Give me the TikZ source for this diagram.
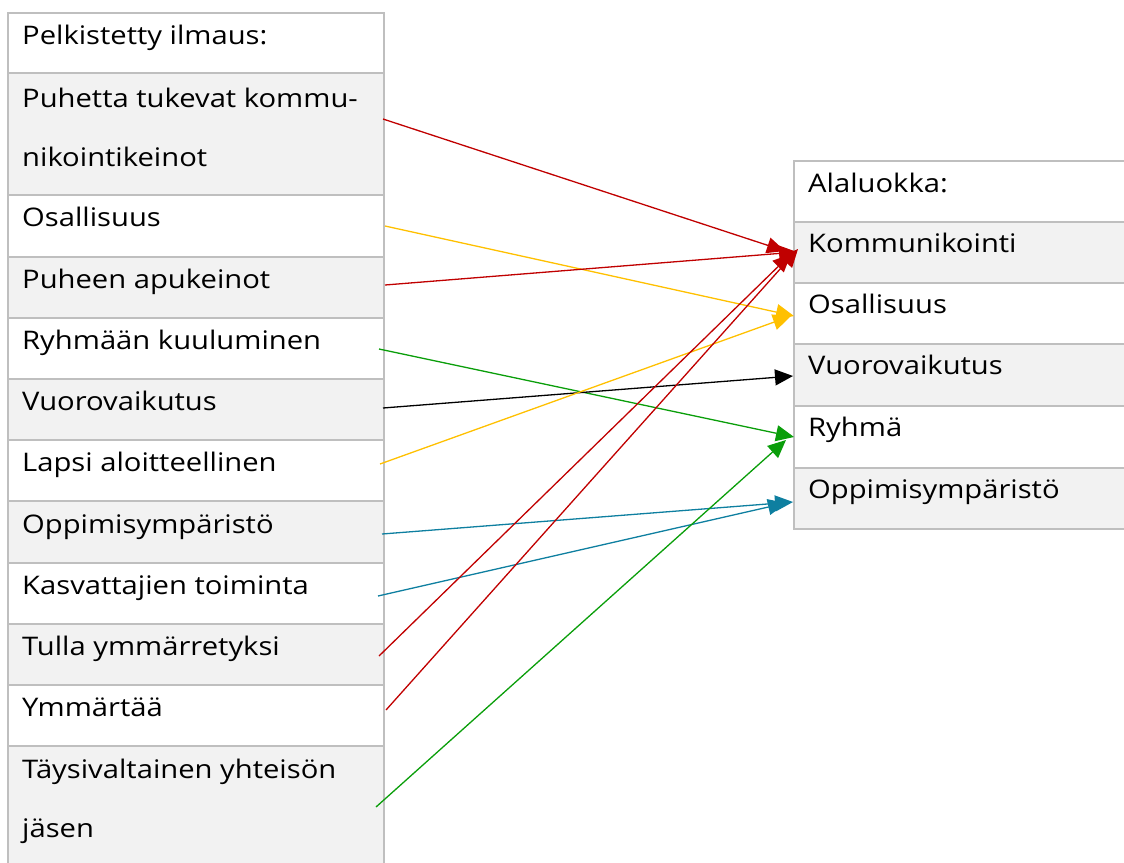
\documentclass[tikz,border=0pt]{standalone}
\usepackage{fontspec}
\setmainfont{Open Sans}[FakeStretch=1.14]
\usetikzlibrary{arrows.meta}
\definecolor{cellgray}{HTML}{F2F2F2}
\definecolor{bordergray}{HTML}{BFBFBF}
\definecolor{cred}{HTML}{C00000}
\definecolor{cgold}{HTML}{FFC000}
\definecolor{cgreen}{HTML}{0A9E0A}
\definecolor{cteal}{HTML}{0E7FA0}
\newcommand{\twolines}[2]{\vtop{\hbox{#1}\hbox{#2}}}
\tikzset{
  cell/.style={draw=bordergray, line width=2pt, anchor=north west, inner sep=0pt, minimum width=#1},
  lcell/.style={cell=376pt},
  rcell/.style={cell=340pt},
  txt/.style={anchor=base west, inner sep=0pt, font=\fontsize{25.6}{59}\selectfont},
  link/.style={line width=1.3pt, -{Triangle[length=18pt,width=16pt]}},
}
\begin{document}
\begin{tikzpicture}[x=1pt,y=-1pt]
\useasboundingbox (0,0) rectangle (1124,862);
% left table
\node[lcell, fill=white, minimum height=60pt] (l0) at (7,12) {};
\node[lcell, fill=cellgray, minimum height=122pt] (l1) at (7,72) {};
\node[lcell, fill=white, minimum height=62pt] (l2) at (7,194) {};
\node[lcell, fill=cellgray, minimum height=61pt] (l3) at (7,256) {};
\node[lcell, fill=white, minimum height=61pt] (l4) at (7,317) {};
\node[lcell, fill=cellgray, minimum height=61pt] (l5) at (7,378) {};
\node[lcell, fill=white, minimum height=61pt] (l6) at (7,439) {};
\node[lcell, fill=cellgray, minimum height=62pt] (l7) at (7,500) {};
\node[lcell, fill=white, minimum height=61pt] (l8) at (7,562) {};
\node[lcell, fill=cellgray, minimum height=61pt] (l9) at (7,623) {};
\node[lcell, fill=white, minimum height=61pt] (l10) at (7,684) {};
\node[lcell, fill=cellgray, minimum height=122pt] (l11) at (7,745) {};
\node[txt] (t0) at (22,44) {Pelkistetty ilmaus:};
\node[txt] (t1) at (22,107) {\twolines{Puhetta tukevat kommu-}{nikointikeinot}};
\node[txt] (t2) at (22,226) {Osallisuus};
\node[txt] (t3) at (22,288) {Puheen apukeinot};
\node[txt] (t4) at (22,349) {Ryhmään kuuluminen};
\node[txt] (t5) at (22,410) {Vuorovaikutus};
\node[txt] (t6) at (22,471) {Lapsi aloitteellinen};
\node[txt] (t7) at (22,533) {Oppimisympäristö};
\node[txt] (t8) at (22,594) {Kasvattajien toiminta};
\node[txt] (t9) at (22,655) {Tulla ymmärretyksi};
\node[txt] (t10) at (22,716) {Ymmärtää};
\node[txt] (t11) at (22,778) {\twolines{Täysivaltainen yhteisön}{jäsen}};
% right table
\node[rcell, fill=white, minimum height=61pt] (r0) at (793,160) {};
\node[rcell, fill=cellgray, minimum height=61pt] (r1) at (793,221) {};
\node[rcell, fill=white, minimum height=61pt] (r2) at (793,282) {};
\node[rcell, fill=cellgray, minimum height=62pt] (r3) at (793,343) {};
\node[rcell, fill=white, minimum height=62pt] (r4) at (793,405) {};
\node[rcell, fill=cellgray, minimum height=61pt] (r5) at (793,467) {};
\node[txt] (u0) at (808,192) {Alaluokka:};
\node[txt] (u1) at (808,252) {Kommunikointi};
\node[txt] (u2) at (808,313) {Osallisuus};
\node[txt] (u3) at (808,374) {Vuorovaikutus};
\node[txt] (u4) at (808,436) {Ryhmä};
\node[txt] (u5) at (808,498) {Oppimisympäristö};
% connector end points
\coordinate (s1) at (383,119);
\coordinate (s2) at (385,226);
\coordinate (s3) at (385,285);
\coordinate (s4) at (379,349);
\coordinate (s5) at (383,408);
\coordinate (s6) at (380,464);
\coordinate (s7) at (382,534);
\coordinate (s8) at (378,596);
\coordinate (s9) at (379,656);
\coordinate (s10) at (386,710);
\coordinate (s11) at (376,807);
\coordinate (e1) at (785,251);
\coordinate (e2) at (794,316);
\coordinate (e3) at (797,252);
\coordinate (e4) at (794,437);
\coordinate (e5) at (793,376);
\coordinate (e6) at (791,316);
\coordinate (e7) at (793,502);
\coordinate (e8) at (786,503);
\coordinate (e9) at (791,254);
\coordinate (e10) at (798,249);
\coordinate (e11) at (786,440);
\draw[link, cred] (s1) -- (e1);
\draw[link, cgold] (s2) -- (e2);
\draw[link, cred] (s3) -- (e3);
\draw[link, cgreen] (s4) -- (e4);
\draw[link, black] (s5) -- (e5);
\draw[link, cgold] (s6) -- (e6);
\draw[link, cteal] (s7) -- (e7);
\draw[link, cteal] (s8) -- (e8);
\draw[link, cred] (s9) -- (e9);
\draw[link, cred] (s10) -- (e10);
\draw[link, cgreen] (s11) -- (e11);
\end{tikzpicture}
\end{document}
